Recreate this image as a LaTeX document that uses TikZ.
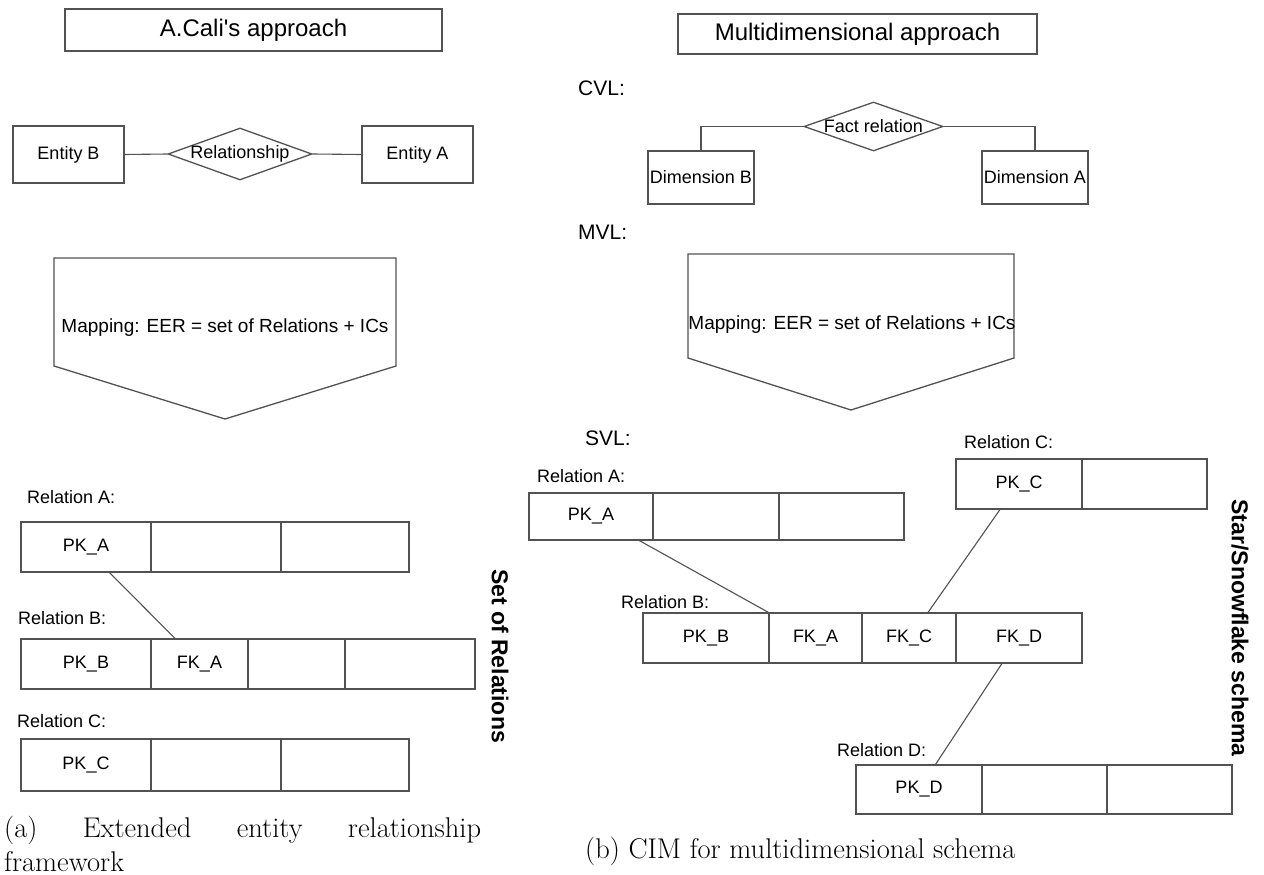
\documentclass[tikz,border=0pt]{standalone}
\usepackage{fontspec}
\newfontfamily\arial{Liberation Sans}
\usetikzlibrary{shapes.geometric,calc}
\definecolor{linec}{gray}{0.32}
\tikzset{
  sz/.style 2 args={minimum width=#1pt, minimum height=#2pt},
  box/.style={draw=linec, line width=1.3pt, inner sep=0pt, font=\arial\fontsize{18}{20}\selectfont},
  title/.style={box, font=\arial\fontsize{24}{26}\selectfont},
  lab/.style={anchor=west, inner sep=0pt, font=\arial\fontsize{18}{20}\selectfont},
  level/.style={anchor=west, inner sep=0pt, font=\arial\fontsize{21}{23}\selectfont},
  maptext/.style={inner sep=0pt, font=\arial\fontsize{19}{21}\selectfont},
  link/.style={draw=linec, line width=1.1pt},
  side/.style={rotate=-90, inner sep=0pt, font=\arial\bfseries\fontsize{23}{25}\selectfont},
  captext/.style={inner sep=0pt, font=\fontsize{28.5}{34}\selectfont},
}
\begin{document}
\begin{tikzpicture}[x=1pt, y=-1pt]
\useasboundingbox[fill=white] (0,0) rectangle (1264,875);

% ---------- (a) EER framework ----------
\node[title, sz={377}{42}] (tA) at (253.5,30) {A.Cali\textquotesingle s approach};

\node[box, sz={111}{57}] (eB) at (68.5,154.5) {Entity B};
\node[diamond, box, sz={144}{52}] (rel) at (240,154) {\makebox[0pt]{Relationship}};
\node[box, sz={111}{57}] (eA) at (417.5,154.5) {Entity A};
\draw[link] (eB.east) -- (rel.west);
\draw[link] (rel.east) -- (eA.west);

\draw[box] (54,258) -- (396,258) -- (396,366) -- (225,419) -- (54,366) -- cycle;
\node[maptext] (mapA) at (225,328) {Mapping: EER = set of Relations + ICs};

\node[lab] (lRA) at (27,497) {Relation A:};
\node[box, sz={130}{50}] (la1) at (86,547) {PK\_A};
\node[box, sz={130}{50}] (la2) at (216,547) {};
\node[box, sz={128}{50}] (la3) at (345,547) {};

\node[lab] (lRB) at (18,618) {Relation B:};
\node[box, sz={130}{50}] (lb1) at (86,664) {PK\_B};
\node[box, sz={97}{50}] (lb2) at (199.5,664) {FK\_A};
\node[box, sz={97}{50}] (lb3) at (296.5,664) {};
\node[box, sz={130}{50}] (lb4) at (410,664) {};

\node[lab] (lRC) at (17,721) {Relation C:};
\node[box, sz={130}{52}] (lc1) at (86,765) {PK\_C};
\node[box, sz={130}{52}] (lc2) at (216,765) {};
\node[box, sz={128}{52}] (lc3) at (345,765) {};

\draw[link] ($(la1.south west)!0.68!(la1.south east)$) -- ($(lb2.north west)!0.25!(lb2.north east)$);

\node[side] (setrel) at (500,656) {Set of Relations};

\node[captext, anchor=north west, align=left] (capA) at (4,815.5)
  {\hbox to 477pt{(a)\hfill Extended\hfill entity\hfill relationship}\\framework};

% ---------- (b) multidimensional schema ----------
\node[title, sz={359}{40}] (tB) at (857.5,34) {Multidimensional approach};

\node[level] (cvl) at (578,88) {CVL:};
\node[diamond, box, sz={139}{49}] (fact) at (873.5,126.5) {\makebox[0pt]{Fact relation}};
\node[box, sz={106}{53}] (dB) at (701,177.5) {Dimension B};
\node[box, sz={106}{53}] (dA) at (1035,177.5) {Dimension A};
\draw[link] (fact.west) -| (dB.north);
\draw[link] (fact.east) -| (dA.north);

\node[level] (mvl) at (578,232) {MVL:};
\draw[box] (688,254) -- (1014,254) -- (1014,358) -- (851,410) -- (688,358) -- cycle;
\node[maptext] (mapB) at (852,325) {Mapping: EER = set of Relations + ICs};

\node[level] (svl) at (585,438) {SVL:};

\node[lab] (rRA) at (537,476) {Relation A:};
\node[box, sz={124}{47}] (ra1) at (591,516.5) {PK\_A};
\node[box, sz={126}{47}] (ra2) at (716,516.5) {};
\node[box, sz={125}{47}] (ra3) at (841.5,516.5) {};

\node[lab] (rRC) at (964,442) {Relation C:};
\node[box, sz={126}{50}] (rc1) at (1019,484) {PK\_C};
\node[box, sz={125}{50}] (rc2) at (1144.5,484) {};

\node[lab] (rRB) at (621,602) {Relation B:};
\node[box, sz={126}{50}] (rb1) at (706,638) {PK\_B};
\node[box, sz={93}{50}] (rb2) at (815.5,638) {FK\_A};
\node[box, sz={94}{50}] (rb3) at (909,638) {FK\_C};
\node[box, sz={126}{50}] (rb4) at (1019,638) {FK\_D};

\node[lab] (rRD) at (837,750) {Relation D:};
\node[box, sz={126}{49}] (rd1) at (919,789.5) {PK\_D};
\node[box, sz={125}{49}] (rd2) at (1044.5,789.5) {};
\node[box, sz={125}{49}] (rd3) at (1169.5,789.5) {};

\draw[link] ($(ra1.south west)!0.887!(ra1.south east)$) -- (rb2.north west);
\draw[link] ($(rc1.south west)!0.35!(rc1.south east)$) -- ($(rb3.north west)!0.70!(rb3.north east)$);
\draw[link] ($(rb4.south west)!0.365!(rb4.south east)$) -- ($(rd1.north west)!0.63!(rd1.north east)$);

\node[side] (star) at (1240,628) {Star/Snowflake schema};

\node[captext, anchor=base west] (capB) at (585,858) {(b) CIM for multidimensional schema};
\end{tikzpicture}
\end{document}
